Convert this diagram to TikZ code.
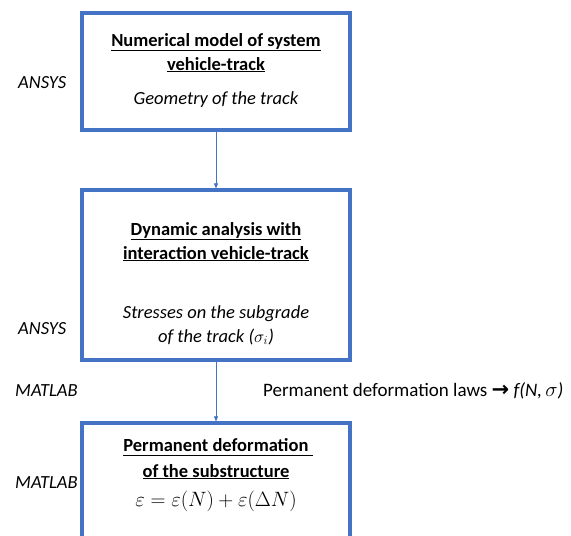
\documentclass[tikz,border=0pt]{standalone}
\usepackage{fontspec}
\setmainfont{Carlito}
\newfontfamily\arrowfont{DejaVu Sans}
\usetikzlibrary{arrows.meta}
\definecolor{boxblue}{HTML}{4472C4}
\newcommand{\fsz}{\fontsize{18.5}{22}\selectfont}
\tikzset{
  box/.style={draw=boxblue, line width=3.2pt, minimum width=268pt, inner sep=0pt},
  txt/.style={font=\fsz, inner sep=0pt, anchor=base},
  hd/.style={txt, font=\fsz\bfseries},
  it/.style={txt, font=\fsz\itshape},
  side/.style={font=\fsz\itshape, inner sep=0pt, anchor=base west},
  conn/.style={draw=boxblue, line width=0.6pt, -{Triangle[length=5pt,width=4pt]}}
}
\begin{document}
\begin{tikzpicture}[x=1pt,y=-1pt]
\useasboundingbox (0,0) rectangle (571,536);
\clip (0,0) rectangle (571,536);
\node[box, minimum height=117pt] (b1) at (216,71.5) {};
\node[box, minimum height=170pt] (b2) at (216,275) {};
\node[box, minimum height=140pt] (b3) at (216,493) {};
\draw[conn] (b1.south) -- (b2.north);
\draw[conn] (b2.south) -- (b3.north);
% box 1
\node[hd] (t11) at (216,46) {\underline{Numerical model of system}};
\node[hd] (t12) at (216,70) {\underline{vehicle-track}};
\node[it] (t13) at (216,104) {Geometry of the track};
% box 2
\node[hd] (t21) at (216,235) {\underline{Dynamic analysis with}};
\node[hd] (t22) at (216,259) {\underline{interaction vehicle-track}};
\node[it] (t23) at (216,318) {Stresses on the subgrade};
\node[it] (t24) at (216,342) {of the track ($\sigma_i$)};
% box 3
\node[hd] (t31) at (218,451) {\underline{Permanent deformation\vphantom{y}\ }};
\node[hd] (t32) at (216,477) {\underline{of the substructure}};
\node[txt, font=\fontsize{20.5}{24}\selectfont] (t33) at (216,506) {$\varepsilon = \varepsilon(N) + \varepsilon(\Delta N)$};
% side labels
\node[side] (s1) at (18,88) {ANSYS};
\node[side] (s2) at (18,334) {ANSYS};
\node[side] (s3) at (15,396) {MATLAB};
\node[side] (s4) at (15,488) {MATLAB};
\node[txt, anchor=base west, font=\fontsize{19}{22}\selectfont] (law) at (263,396) {Permanent deformation laws {\arrowfont\bfseries\fontsize{21}{22}\selectfont →} \textit{f(N,\,{\fontsize{21}{22}\selectfont$\sigma$})}};
\end{tikzpicture}
\end{document}
